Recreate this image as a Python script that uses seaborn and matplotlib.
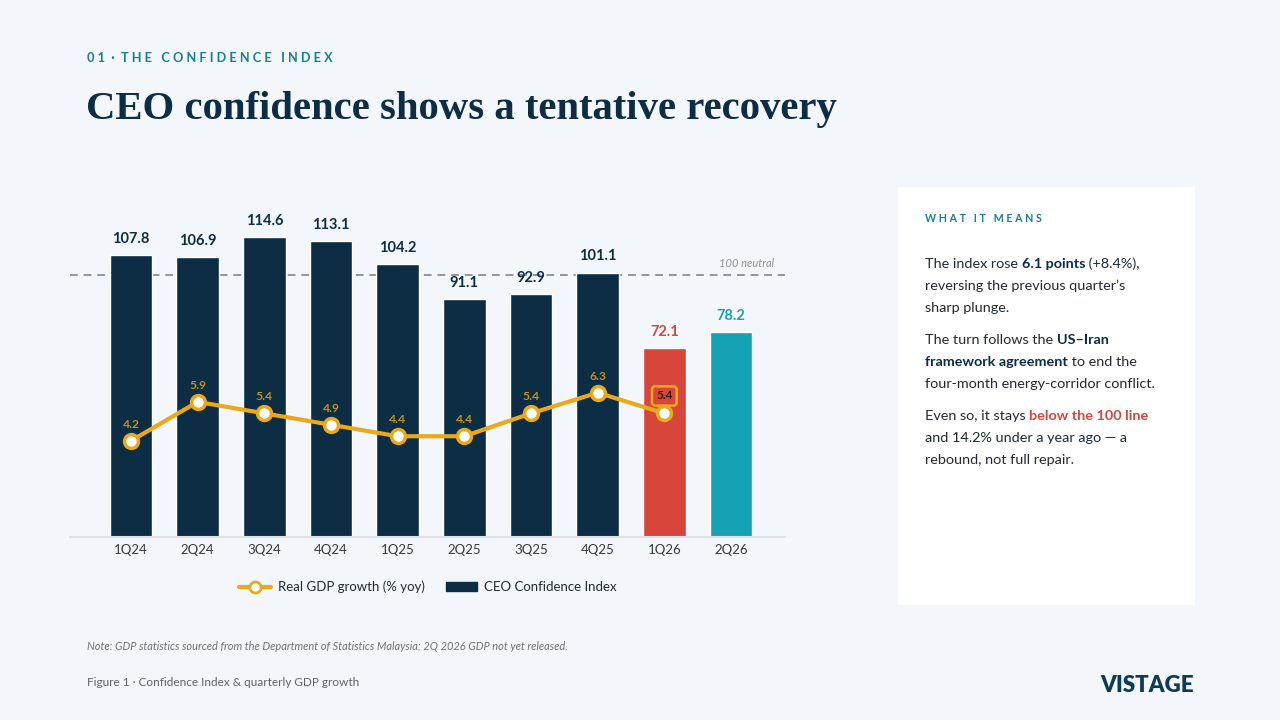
import numpy as np
import pandas as pd
import matplotlib
matplotlib.use("Agg")
import matplotlib.pyplot as plt
import seaborn as sns
from matplotlib.lines import Line2D
from matplotlib.patches import Patch, Rectangle

# ---------------- data ----------------
quarters = ["1Q24", "2Q24", "3Q24", "4Q24", "1Q25", "2Q25", "3Q25", "4Q25", "1Q26", "2Q26"]
cci = [107.8, 106.9, 114.6, 113.1, 104.2, 91.1, 92.9, 101.1, 72.1, 78.2]
gdp_quarters = quarters[:9]
gdp = [4.2, 5.9, 5.4, 4.9, 4.4, 4.4, 5.4, 6.3, 5.4]
neutral = 100

# ---------------- style ----------------
BG = "#F3F6FA"
NAVY = "#0C2D43"
RED = "#D8453B"
TEAL = "#15A2B5"
GOLD = "#EBA91A"
GOLD_TXT = "#C4921C"
GREY = "#8A939B"
TXT = "#1F2A33"

bar_colors = [NAVY] * 8 + [RED, TEAL]
label_colors = [NAVY] * 8 + [RED, TEAL]

sns.set_theme(style="white")
plt.rcParams["font.family"] = ["Lato", "DejaVu Sans"]

W, H = 1280, 720
fig = plt.figure(figsize=(W / 100, H / 100), dpi=100)
fig.patch.set_facecolor(BG)


def px(x, y):
    return x / W, 1 - y / H


# axes placed so that 0 sits at y=537 px
ax_l, ax_r, ax_b, ax_t = 70, 785, 537, 197
ax = fig.add_axes([ax_l / W, 1 - ax_b / H, (ax_r - ax_l) / W, (ax_b - ax_t) / H])
ax.set_facecolor("none")

df = pd.DataFrame({"quarter": quarters, "cci": cci})
sns.barplot(data=df, x="quarter", y="cci", hue="quarter", palette=bar_colors,
            width=0.64, legend=False, ax=ax, saturation=1)
ax.set_ylim(0, (ax_b - ax_t) / 2.616)
ax.set_xlim(-0.915, 9.81)
ax.axhline(neutral, color="#8E979F", lw=1.4, ls=(0, (4, 3)), zorder=0.5)
ax.text(9.65, neutral + 2.5, "100 neutral", ha="right", va="bottom",
        fontsize=8, style="italic", color=GREY)
for i, v in enumerate(cci):
    ax.text(i, v + 3.5, f"{v:.1f}", ha="center", va="bottom", fontsize=10.5,
            fontweight="bold", color=label_colors[i])

for s in ["top", "right", "left"]:
    ax.spines[s].set_visible(False)
ax.spines["bottom"].set_color("#DCE2E7")
ax.spines["bottom"].set_linewidth(1.5)
ax.set_yticks([])
ax.set_xlabel("")
ax.set_ylabel("")
ax.tick_params(axis="x", length=0, labelsize=9.5, labelcolor="#333B42", pad=5)

# secondary axis for GDP
ax2 = ax.twinx()
ax2.set_ylim(0, (ax_b - ax_t) / 22.9)
xs = np.arange(len(gdp))
sns.lineplot(x=xs, y=gdp, ax=ax2, color=GOLD, lw=3, marker="o", markersize=10,
             markerfacecolor="white", markeredgecolor=GOLD, markeredgewidth=2.5,
             zorder=5)
for i, v in enumerate(gdp):
    if i == len(gdp) - 1:
        ax2.annotate(f"{v:.1f}", (i, v), xytext=(0, 12.5), textcoords="offset points",
                     ha="center", va="center", fontsize=8.5, fontweight="bold", color="#2A1A10",
                     bbox=dict(boxstyle="round,pad=0.35,rounding_size=0.25", fc=RED,
                               ec=GOLD, lw=1.8))
    else:
        ax2.annotate(f"{v:.1f}", (i, v), xytext=(0, 8), textcoords="offset points",
                     ha="center", va="bottom", fontsize=8.7, fontweight="bold", color=GOLD_TXT)
ax2.set_yticks([])
ax2.set_ylabel("")
for s in ax2.spines.values():
    s.set_visible(False)
ax2.set_xlim(-0.915, 9.81)

# legend
handles = [
    Line2D([0], [0], color=GOLD, lw=3, marker="o", markersize=8,
           markerfacecolor="white", markeredgecolor=GOLD, markeredgewidth=2),
    Patch(facecolor=NAVY, edgecolor=NAVY),
]
fig.legend(handles, ["Real GDP growth (% yoy)", "CEO Confidence Index"],
           loc="center", bbox_to_anchor=px(428, 587), ncol=2, frameon=False,
           fontsize=9.5, handlelength=2.4, columnspacing=1.6, handletextpad=0.5,
           labelcolor="#1F2A33")

# ---------------- header ----------------
fig.text(*px(87, 58), "0 1  ·  T H E   C O N F I D E N C E   I N D E X",
         fontsize=9.2, fontweight="bold", color="#1A7F8E", va="center", ha="left")
fig.text(*px(86, 109), "CEO confidence shows a tentative recovery", fontsize=29.3,
         fontweight="bold", color=NAVY, va="center", ha="left",
         family=["Liberation Serif", "DejaVu Serif"])

# ---------------- right panel ----------------
fig.patches.append(Rectangle(px(898, 605), (1195 - 898) / W, (605 - 187) / H,
                             transform=fig.transFigure, facecolor="white",
                             edgecolor="none", zorder=0))
fig.text(*px(925, 218), "W H A T   I T   M E A N S",
         fontsize=7.7, fontweight="bold", color="#1A7F8E", va="center", ha="left")

fig.canvas.draw()
renderer = fig.canvas.get_renderer()


def rich(x, y, runs, size=10.4):
    for text, weight, color in runs:
        t = fig.text(*px(x, y), text, fontsize=size, fontweight=weight, color=color,
                     va="baseline", ha="left", family=["Lato", "DejaVu Sans"])
        bb = t.get_window_extent(renderer)
        x += bb.width


N = "normal"
B = "bold"
lines = [
    (268, [("The index rose ", N, TXT), ("6.1 points", B, NAVY), (" (+8.4%),", N, TXT)]),
    (290, [("reversing the previous quarter\u2019s", N, TXT)]),
    (312, [("sharp plunge.", N, TXT)]),
    (344, [("The turn follows the ", N, TXT), ("US\u2013Iran", B, NAVY)]),
    (366, [("framework agreement", B, NAVY), (" to end the", N, TXT)]),
    (388, [("four-month energy-corridor conflict.", N, TXT)]),
    (420, [("Even so, it stays ", N, TXT), ("below the 100 line", B, RED)]),
    (442, [("and 14.2% under a year ago \u2014 a", N, TXT)]),
    (464, [("rebound, not full repair.", N, TXT)]),
]
for y, runs in lines:
    rich(925, y, runs)

# ---------------- footer ----------------
fig.text(*px(87, 646), "Note: GDP statistics sourced from the Department of Statistics Malaysia; 2Q 2026 GDP not yet released.",
         fontsize=7.9, style="italic", color="#6B747C", va="center", ha="left")
fig.text(*px(87, 682), "Figure 1 \u00b7 Confidence Index & quarterly GDP growth",
         fontsize=8.5, color="#5B646C", va="center", ha="left")
fig.text(*px(1194, 686), "VISTAGE", fontsize=16, fontweight="heavy", color="#0E3A57",
         va="center", ha="right")

fig.savefig("out.png", dpi=100, facecolor=BG)
